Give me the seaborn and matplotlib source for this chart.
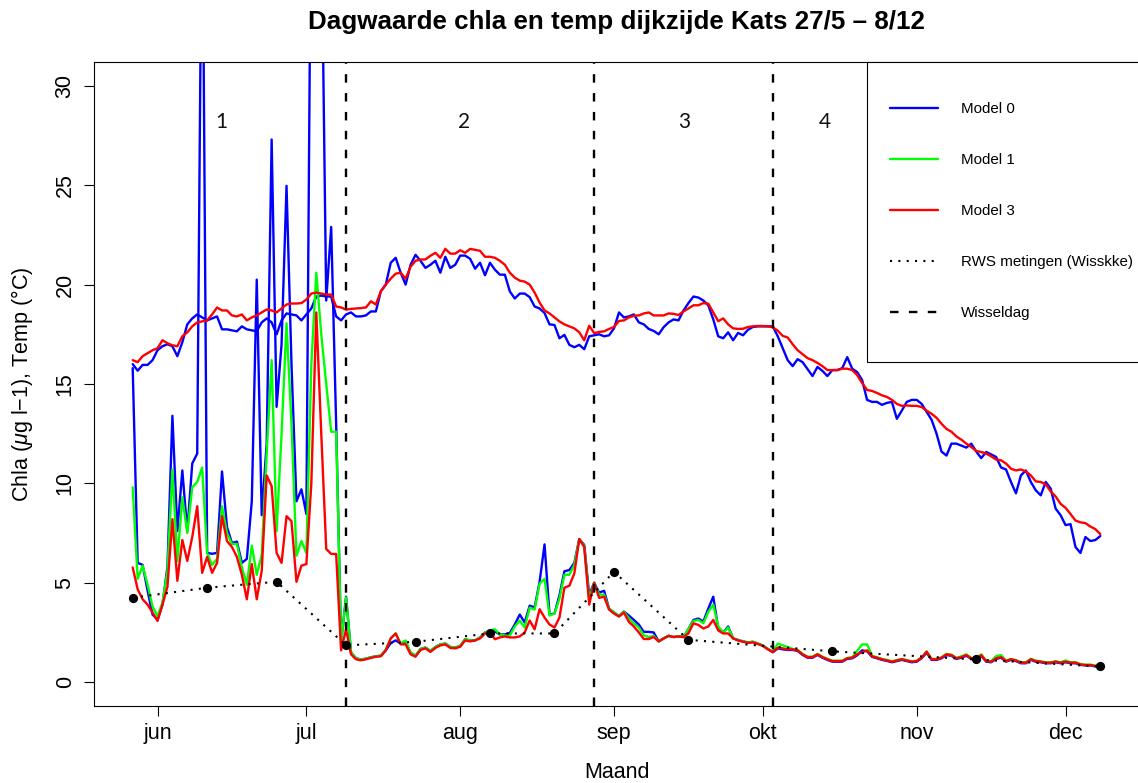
import matplotlib
matplotlib.use("Agg")
import matplotlib.pyplot as plt
import pandas as pd
import seaborn as sns
from matplotlib.lines import Line2D
from matplotlib.patches import Rectangle

# ---- daily series, 27 May .. 8 Dec -------------------------------------
dates = pd.date_range("2014-05-27", "2014-12-08", freq="D")

temp_model0 = [
    16.0, 15.67, 15.96, 15.96, 16.2,
    16.7, 16.9, 17.0, 16.9, 16.4, 17.1, 18.0, 18.3, 18.5, 18.35,
    18.2, 18.3, 18.4, 17.75, 17.75, 17.7, 17.65, 17.9, 17.75, 17.7,
    17.65, 18.1, 18.3, 18.1, 17.5, 18.2, 18.55, 18.5, 18.45, 18.2,
    18.5, 18.8, 19.4, 19.45, 19.4, 19.4, 18.4, 18.2, 18.5, 18.6,
    18.4, 18.4, 18.45, 18.65, 18.65, 19.66, 20.0, 21.1, 21.35, 20.6,
    20.0, 21.0, 21.5, 21.2, 20.84, 21.0, 21.2, 20.6, 21.4, 20.84,
    21.0, 21.46, 21.46, 21.3, 20.8, 21.1, 20.47, 21.1, 20.75, 20.5,
    20.5, 19.66, 19.3, 19.55, 19.55, 19.37, 18.9, 18.8, 18.57, 18.0,
    17.97, 17.3, 17.47, 16.97, 16.85, 16.97, 16.75, 17.4, 17.45, 17.5,
    17.4, 17.45, 17.8, 18.6, 18.35, 18.4, 18.5, 18.1, 18.0, 17.77,
    17.67, 17.5, 17.86, 18.1, 18.25, 18.2, 18.7, 19.07, 19.4, 19.35,
    19.2, 18.96, 18.25, 17.4, 17.3, 17.6, 17.2, 17.57, 17.45, 17.73,
    17.87, 17.9, 17.9, 17.9, 17.9, 17.4, 16.8, 16.2, 15.9, 16.25,
    16.1, 15.75, 15.4, 15.86, 15.66, 15.4, 15.7, 15.7, 15.8, 16.35,
    15.77, 15.6, 15.2, 14.2, 14.1, 14.1, 13.95, 14.05, 14.1, 13.25,
    13.66, 14.1, 14.2, 14.2, 14.0, 13.6, 13.2, 12.5, 11.6, 11.4,
    12.0, 12.0, 11.9, 11.8, 12.0, 11.6, 11.27, 11.58, 11.46, 11.33,
    10.8, 10.7, 10.07, 9.5, 10.4, 10.65, 10.07, 9.65, 9.4, 10.07,
    9.74, 8.73, 8.4, 7.9, 7.95, 6.8, 6.5, 7.3, 7.1, 7.15,
    7.35,
]

temp_model3 = [
    16.2, 16.1, 16.4, 16.55, 16.7,
    16.8, 17.2, 17.05, 16.95, 16.9, 17.4, 17.6, 17.9, 18.1, 18.15,
    18.2, 18.5, 18.85, 18.7, 18.7, 18.45, 18.4, 18.5, 18.2, 18.35,
    18.45, 18.6, 18.75, 18.7, 18.6, 18.8, 19.0, 19.05, 19.05, 19.07,
    19.25, 19.55, 19.6, 19.55, 19.5, 19.5, 18.9, 18.85, 18.74, 18.78,
    18.8, 18.82, 18.85, 19.16, 19.0, 19.66, 20.0, 20.3, 20.55, 20.6,
    20.3, 20.9, 21.2, 21.26, 21.27, 21.45, 21.6, 21.35, 21.8, 21.56,
    21.56, 21.73, 21.6, 21.8, 21.75, 21.7, 21.4, 21.4, 21.35, 21.2,
    21.0, 20.6, 20.35, 20.2, 20.15, 20.0, 19.6, 19.1, 18.7, 18.55,
    18.35, 18.15, 18.0, 17.9, 17.8, 17.6, 17.2, 17.93, 17.56, 17.62,
    17.65, 17.77, 17.87, 18.17, 18.2, 18.35, 18.43, 18.45, 18.55, 18.6,
    18.45, 18.45, 18.45, 18.55, 18.53, 18.47, 18.65, 18.8, 18.96, 18.96,
    19.07, 19.04, 18.6, 18.16, 18.3, 18.0, 17.8, 17.77, 17.78, 17.87,
    17.9, 17.92, 17.92, 17.9, 17.85, 17.68, 17.42, 17.34, 17.0, 16.7,
    16.5, 16.3, 16.2, 16.06, 15.9, 15.7, 15.7, 15.7, 15.77, 15.77,
    15.7, 15.45, 15.05, 14.7, 14.65, 14.55, 14.43, 14.35, 14.2, 14.0,
    13.9, 13.92, 13.9, 13.9, 13.84, 13.66, 13.5, 13.3, 13.0, 12.74,
    12.6, 12.36, 12.2, 12.0, 11.83, 11.63, 11.58, 11.5, 11.36, 11.2,
    11.16, 11.0, 10.74, 10.65, 10.7, 10.6, 10.4, 10.1, 10.07, 9.95,
    9.6, 9.34, 8.97, 8.77, 8.46, 8.13, 8.04, 8.0, 7.83, 7.7,
    7.45,
]

chla_model0 = [
    15.8, 6.0, 5.9, 4.6, 3.4,
    3.15, 3.9, 5.8, 13.4, 7.6, 10.65, 7.6, 11.0, 11.5, 42.0,
    6.5, 6.46, 6.5, 10.6, 7.8, 7.0, 7.07, 6.0, 6.2, 9.1,
    20.25, 8.4, 12.0, 27.3, 13.85, 17.0, 24.97, 16.0, 9.1, 9.7,
    8.46, 42.0, 40.0, 39.0, 19.2, 22.9, 13.0, 2.0, 4.3, 1.5,
    1.2, 1.14, 1.18, 1.25, 1.3, 1.33, 1.6, 1.97, 2.1, 1.95,
    2.0, 1.48, 1.33, 1.67, 1.74, 1.57, 1.77, 1.9, 1.94, 1.77,
    1.74, 1.82, 2.16, 2.1, 2.1, 2.25, 2.5, 2.55, 2.55, 2.4,
    2.4, 2.47, 2.9, 3.4, 3.0, 3.85, 3.76, 5.05, 6.93, 3.4,
    3.45, 4.37, 5.58, 5.64, 6.0, 7.2, 6.9, 4.4, 5.0, 4.5,
    4.6, 3.7, 3.5, 3.33, 3.55, 3.35, 3.13, 2.9, 2.53, 2.53,
    2.5, 2.05, 2.2, 2.33, 2.27, 2.3, 2.27, 2.67, 3.13, 3.2,
    3.05, 3.7, 4.3, 2.7, 2.5, 2.8, 2.2, 2.12, 2.05, 2.0,
    2.03, 1.94, 1.84, 1.67, 1.5, 1.7, 1.65, 1.62, 1.62, 1.57,
    1.37, 1.23, 1.23, 1.37, 1.23, 1.12, 1.03, 1.03, 1.03, 1.17,
    1.2, 1.35, 1.6, 1.55, 1.27, 1.2, 1.12, 1.07, 1.0, 1.06,
    1.12, 1.06, 1.0, 1.03, 1.2, 1.48, 1.12, 1.12, 1.2, 1.36,
    1.33, 1.17, 1.23, 1.33, 1.17, 1.12, 1.33, 1.03, 1.0, 1.17,
    1.23, 1.03, 1.12, 1.06, 0.95, 0.95, 1.12, 1.03, 1.0, 0.95,
    0.95, 1.0, 0.95, 1.0, 0.95, 0.95, 0.87, 0.84, 0.84, 0.79,
    0.79,
]

chla_model1 = [
    9.8, 5.2, 5.86, 4.9, 3.8,
    3.33, 4.0, 5.6, 10.7, 6.1, 9.3, 7.5, 9.8, 10.07, 10.8,
    6.5, 5.9, 6.2, 8.85, 7.5, 6.95, 6.95, 5.77, 4.9, 6.87,
    5.4, 6.4, 11.5, 16.2, 7.6, 12.5, 18.06, 13.0, 6.36, 7.1,
    6.5, 16.0, 20.6, 17.5, 15.0, 12.6, 12.6, 2.0, 4.26, 1.5,
    1.2, 1.14, 1.18, 1.25, 1.3, 1.33, 1.65, 2.2, 2.45, 1.95,
    2.1, 1.48, 1.33, 1.67, 1.74, 1.57, 1.77, 1.9, 1.94, 1.77,
    1.74, 1.82, 2.16, 2.1, 2.1, 2.25, 2.5, 2.6, 2.66, 2.4,
    2.35, 2.35, 2.8, 3.1, 2.75, 3.75, 3.65, 4.96, 5.2, 3.35,
    3.45, 4.2, 5.4, 5.4, 5.9, 7.2, 6.85, 4.2, 5.0, 4.4,
    4.4, 3.7, 3.5, 3.33, 3.55, 3.2, 2.96, 2.75, 2.36, 2.27,
    2.33, 2.05, 2.2, 2.33, 2.27, 2.3, 2.27, 2.67, 3.08, 3.13,
    2.96, 3.54, 3.9, 2.8, 2.5, 2.75, 2.2, 2.12, 2.05, 2.0,
    2.03, 1.94, 1.84, 1.67, 1.54, 1.94, 1.85, 1.77, 1.67, 1.62,
    1.42, 1.28, 1.28, 1.42, 1.28, 1.17, 1.08, 1.08, 1.08, 1.22,
    1.25, 1.57, 1.9, 1.9, 1.32, 1.25, 1.17, 1.12, 1.05, 1.11,
    1.17, 1.11, 1.05, 1.08, 1.25, 1.55, 1.17, 1.17, 1.25, 1.42,
    1.38, 1.22, 1.3, 1.4, 1.22, 1.17, 1.4, 1.08, 1.05, 1.31,
    1.36, 1.08, 1.17, 1.11, 1.0, 1.0, 1.17, 1.08, 1.05, 1.0,
    1.0, 1.05, 1.0, 1.09, 1.0, 1.0, 0.91, 0.88, 0.88, 0.83,
    0.83,
]

chla_model3 = [
    5.77, 4.67, 4.17, 3.9, 3.5,
    3.08, 3.9, 4.8, 8.2, 5.1, 7.15, 6.1, 7.3, 8.85, 5.5,
    6.3, 5.5, 6.0, 8.35, 7.1, 6.8, 6.3, 5.4, 4.17, 5.94,
    4.17, 5.6, 10.4, 9.86, 6.5, 6.0, 8.35, 8.1, 5.05, 5.86,
    5.94, 10.0, 18.6, 12.5, 6.7, 6.45, 6.45, 1.6, 2.66, 1.4,
    1.15, 1.1, 1.15, 1.22, 1.28, 1.3, 1.6, 2.2, 2.45, 1.9,
    1.9, 1.4, 1.28, 1.62, 1.7, 1.52, 1.72, 1.85, 1.9, 1.72,
    1.7, 1.78, 2.1, 2.05, 2.1, 2.2, 2.45, 2.5, 2.16, 2.25,
    2.3, 2.25, 2.25, 2.3, 2.5, 3.1, 2.66, 3.67, 3.25, 2.9,
    2.75, 3.25, 4.75, 4.85, 5.47, 7.2, 6.8, 3.9, 5.0, 4.24,
    4.3, 3.65, 3.45, 3.3, 3.5, 3.03, 2.8, 2.5, 2.17, 2.17,
    2.27, 2.05, 2.2, 2.33, 2.27, 2.3, 2.27, 2.45, 2.96, 2.88,
    2.7, 2.8, 3.13, 2.6, 2.45, 2.45, 2.2, 2.1, 2.03, 1.98,
    2.0, 1.92, 1.82, 1.65, 1.52, 1.73, 1.7, 1.65, 1.65, 1.6,
    1.4, 1.26, 1.26, 1.4, 1.26, 1.15, 1.06, 1.06, 1.06, 1.2,
    1.23, 1.4, 1.5, 1.6, 1.3, 1.23, 1.15, 1.09, 1.03, 1.09,
    1.15, 1.09, 1.03, 1.06, 1.23, 1.53, 1.15, 1.15, 1.23, 1.4,
    1.36, 1.2, 1.26, 1.36, 1.2, 1.15, 1.36, 1.06, 1.03, 1.2,
    1.26, 1.06, 1.15, 1.09, 0.98, 0.98, 1.15, 1.06, 1.03, 0.98,
    0.98, 1.03, 0.98, 1.03, 0.98, 0.98, 0.89, 0.86, 0.86, 0.81,
    0.81,
]

# ---- RWS field measurements (Wissekerke) ------------------------------
rws_dates = pd.to_datetime([
    "2014-05-27", "2014-06-11", "2014-06-25", "2014-07-09", "2014-07-23",
    "2014-08-07", "2014-08-20", "2014-09-01", "2014-09-16", "2014-10-15",
    "2014-11-13", "2014-12-08",
])
rws_values = [4.25, 4.75, 5.05, 1.85, 2.03, 2.45, 2.45, 5.55, 2.13, 1.55, 1.14, 0.79]

# ---- switch days and period numbers -----------------------------------
wissel_dates = pd.to_datetime(["2014-07-09", "2014-08-28", "2014-10-03"])
period_labels = ["1", "2", "3", "4"]
period_x = pd.to_datetime(["2014-06-13 19:00", "2014-08-01 19:00",
                           "2014-09-15 02:00", "2014-10-13 10:00"])
period_y = 28.2

month_ticks = pd.to_datetime(["2014-06-01", "2014-07-01", "2014-08-01", "2014-09-01",
                              "2014-10-01", "2014-11-01", "2014-12-01"])
month_labels = ["jun", "jul", "aug", "sep", "okt", "nov", "dec"]

# ---- styling -----------------------------------------------------------
sns.set_theme(style="white")
plt.rcParams["font.family"] = ["Liberation Sans", "DejaVu Sans"]
plt.rcParams["text.color"] = "black"
plt.rcParams["axes.labelcolor"] = "black"
plt.rcParams["mathtext.fontset"] = "custom"
plt.rcParams["mathtext.it"] = "Liberation Sans:italic"

BLUE, GREEN, RED = "#0000ff", "#00ff00", "#ff0000"
LW = 1.7
DOTTED = (0, (1, 3.0))
DASHED = (0, (3.6, 4.4))

W, H = 1138, 783
fig = plt.figure(figsize=(W / 100, H / 100), dpi=100)
ax = fig.add_axes([94 / W, (H - 706) / H, (1139 - 94) / W, (706 - 62) / H])

kw = dict(ax=ax, legend=False, linewidth=LW, estimator=None)
sns.lineplot(x=dates, y=temp_model0, color=BLUE, **kw)
sns.lineplot(x=dates, y=chla_model0, color=BLUE, **kw)
sns.lineplot(x=dates, y=chla_model1, color=GREEN, **kw)
sns.lineplot(x=dates, y=temp_model3, color=RED, **kw)
sns.lineplot(x=dates, y=chla_model3, color=RED, **kw)

sns.lineplot(x=rws_dates, y=rws_values, color="black", linewidth=1.5,
             linestyle=DOTTED, ax=ax, legend=False, estimator=None)
sns.scatterplot(x=rws_dates, y=rws_values, color="black", s=44,
                edgecolor="black", linewidth=0, ax=ax, legend=False, zorder=6)

for d in wissel_dates:
    ax.axvline(d, color="black", linewidth=LW, linestyle=DASHED, zorder=3)

for lab, xp in zip(period_labels, period_x):
    ax.text(xp, period_y, lab, ha="center", va="center", fontsize=15,
            family=["Lato", "DejaVu Sans"], color="#111111")

pad = pd.Timedelta(days=7.8)
ax.set_xlim(dates[0] - pad, dates[-1] + pad)
ax.set_ylim(-1.2, 31.2)

ax.set_xticks(month_ticks)
ax.set_xticklabels(month_labels)
ax.set_yticks(range(0, 31, 5))
ax.set_xlabel("")
ax.set_ylabel("")
ax.tick_params(axis="both", which="major", direction="out", length=7.2, width=0.8,
               labelsize=15.5, colors="black", bottom=True, left=True)
ax.tick_params(axis="x", pad=5)
ax.tick_params(axis="y", pad=6, labelrotation=90)
for lab in ax.get_yticklabels():
    lab.set_va("center")
for sp in ax.spines.values():
    sp.set_color("black")
    sp.set_linewidth(0.8)

# legend box
ax.add_patch(Rectangle(((867 - 94) / 1045, (706 - 362) / 644), 0.35, (362 - 62) / 644,
                       transform=ax.transAxes, facecolor="white", edgecolor="black",
                       linewidth=0.8, clip_on=False, zorder=4))
handles = [
    Line2D([], [], color=BLUE, linewidth=LW),
    Line2D([], [], color=GREEN, linewidth=LW),
    Line2D([], [], color=RED, linewidth=LW),
    Line2D([], [], color="black", linewidth=1.5, linestyle=DOTTED),
    Line2D([], [], color="black", linewidth=LW, linestyle=DASHED),
]
labels = ["Model 0", "Model 1", "Model 3", "RWS metingen (Wisskke)", "Wisseldag"]
leg = ax.legend(handles, labels, loc="upper left",
                bbox_to_anchor=(890 / W, 1 - 102 / H), bbox_transform=fig.transFigure,
                frameon=False, fontsize=10.9, handlelength=3.17, handletextpad=1.52,
                labelspacing=2.45, borderpad=0, borderaxespad=0)
leg.set_zorder(7)

fig.text((94 + 1139) / 2 / W, 1 - 22 / H,
         "Dagwaarde chla en temp dijkzijde Kats 27/5 \u2013 8/12",
         ha="center", va="center", fontsize=18.7, fontweight="bold", color="black")
fig.text((94 + 1139) / 2 / W, 1 - 772 / H, "Maand", ha="center", va="center",
         fontsize=15.5, color="black")
fig.text(22 / W, 1 - 384 / H, "Chla ($\\mathit{\\mu}$g l\u22121), Temp (\u00b0C)",
         ha="center", va="center", rotation=90, fontsize=15.5, color="black")

fig.savefig("out.png", dpi=100)
